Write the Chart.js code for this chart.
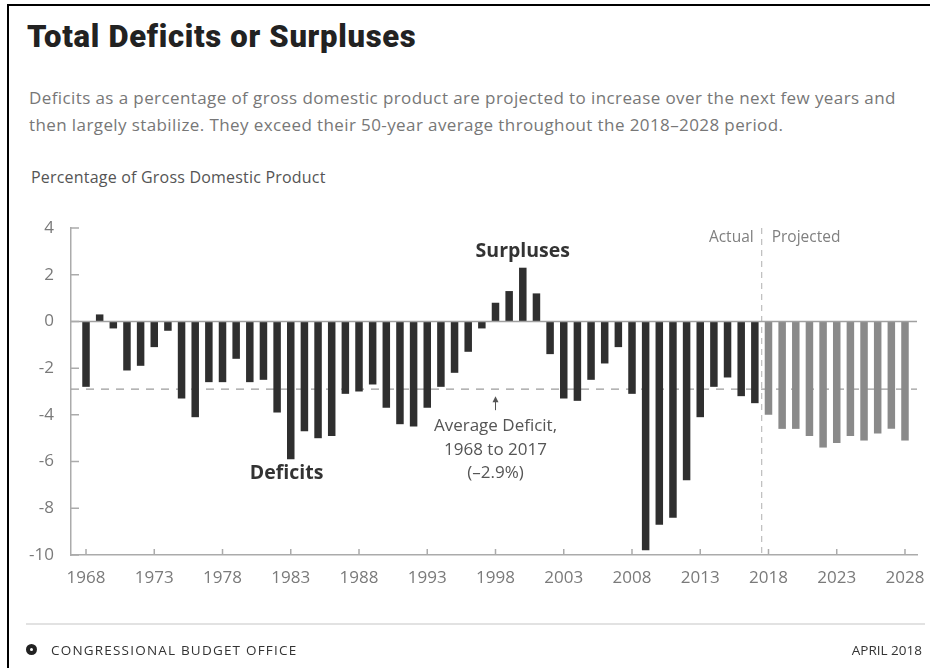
<!DOCTYPE html>
<html>
<head>
<meta charset="utf-8">
<script src="https://cdn.jsdelivr.net/npm/chart.js@4"></script>
<style>
  html, body { margin: 0; padding: 0; background: #fff; }
  #page { position: relative; width: 930px; height: 668px; overflow: hidden; font-family: "Open Sans", sans-serif; }
  #frame { position: absolute; left: 7px; top: 4px; width: 930px; height: 700px; border-top: 2px solid #000; border-left: 2px solid #000; }
  #title { position: absolute; left: 27px; top: 21px; font-family: Roboto, sans-serif; font-weight: 900; font-size: 31px; letter-spacing: 0.7px; line-height: 31px; color: #222; white-space: nowrap; }
  #sub { position: absolute; left: 29px; top: 84px; font-size: 17px; letter-spacing: 0.4px; line-height: 27px; color: #777; white-space: nowrap; }
  #unit { position: absolute; left: 31px; top: 166px; font-size: 16px; letter-spacing: 0.2px; line-height: 22px; color: #555; white-space: nowrap; }
  #rule { position: absolute; left: 26px; top: 623px; width: 899px; height: 2px; background: #e2e2e2; }
  #logo { position: absolute; left: 26px; top: 644px; width: 11px; height: 11px; border-radius: 50%; background: #222; }
  #logo::after { content: ""; position: absolute; left: 4px; top: 4px; width: 3px; height: 3px; border-radius: 50%; background: #fff; }
  #cbo { position: absolute; left: 51px; top: 640px; font-size: 13.5px; letter-spacing: 1.2px; line-height: 20px; color: #333; }
  #date { position: absolute; right: 8px; top: 640px; font-size: 13.5px; line-height: 20px; color: #333; }
  canvas { position: absolute; left: 0; top: 0; }
</style>
</head>
<body>
<div id="page">
  <div id="frame"></div>
  <div id="title">Total Deficits or Surpluses</div>
  <div id="sub">Deficits as a percentage of gross domestic product are projected to increase over the next few years and<br>then largely stabilize. They exceed their 50-year average throughout the 2018–2028 period.</div>
  <div id="unit">Percentage of Gross Domestic Product</div>
  <canvas id="deficitChart" width="930" height="668"></canvas>
  <div id="rule"></div>
  <div id="logo"></div>
  <div id="cbo">CONGRESSIONAL BUDGET OFFICE</div>
  <div id="date">APRIL 2018</div>
</div>
<script>
// values (percent of GDP)
const actualYears = [1968, 1969, 1970, 1971, 1972, 1973, 1974, 1975, 1976, 1977,
  1978, 1979, 1980, 1981, 1982, 1983, 1984, 1985, 1986, 1987,
  1988, 1989, 1990, 1991, 1992, 1993, 1994, 1995, 1996, 1997,
  1998, 1999, 2000, 2001, 2002, 2003, 2004, 2005, 2006, 2007,
  2008, 2009, 2010, 2011, 2012, 2013, 2014, 2015, 2016, 2017];
const actualValues = [-2.8, 0.3, -0.3, -2.1, -1.9, -1.1, -0.4, -3.3, -4.1, -2.6,
  -2.6, -1.6, -2.6, -2.5, -3.9, -5.9, -4.7, -5.0, -4.9, -3.1,
  -3.0, -2.7, -3.7, -4.4, -4.5, -3.7, -2.8, -2.2, -1.3, -0.3,
  0.8, 1.3, 2.3, 1.2, -1.4, -3.3, -3.4, -2.5, -1.8, -1.1,
  -3.1, -9.8, -8.7, -8.4, -6.8, -4.1, -2.8, -2.4, -3.2, -3.5];
const projectedYears = [2018, 2019, 2020, 2021, 2022, 2023, 2024, 2025, 2026, 2027, 2028];
const projectedValues = [-4.0, -4.6, -4.6, -4.9, -5.4, -5.2, -4.9, -5.1, -4.8, -4.6, -5.1];
const averageDeficit = -2.9;
const xTickYears = [1968, 1973, 1978, 1983, 1988, 1993, 1998, 2003, 2008, 2013, 2018, 2023, 2028];
const yTickValues = [-10, -8, -6, -4, -2, 0, 2, 4];

const axisGrey = '#ababab';

const overlay = {
    id: 'overlay',
    beforeDatasetsDraw(chart) {
        const { ctx, chartArea: a, scales: { x, y } } = chart;
        ctx.save();
        // 50-year average
        const ya = y.getPixelForValue(averageDeficit);
        ctx.strokeStyle = '#9c9c9c';
        ctx.lineWidth = 1.2;
        ctx.setLineDash([8, 7]);
        ctx.beginPath();
        ctx.moveTo(a.left, ya);
        ctx.lineTo(a.right, ya);
        ctx.stroke();
        // actual / projected divider
        const xd = x.getPixelForValue(2017.5);
        ctx.strokeStyle = '#bdbdbd';
        ctx.setLineDash([6, 5]);
        ctx.beginPath();
        ctx.moveTo(xd, a.top);
        ctx.lineTo(xd, a.bottom);
        ctx.stroke();
        ctx.restore();
    },
    afterDatasetsDraw(chart) {
        const { ctx, chartArea: a, scales: { x, y } } = chart;
        ctx.save();
        // zero line
        const y0 = y.getPixelForValue(0);
        ctx.strokeStyle = '#a0a0a0';
        ctx.lineWidth = 1.5;
        ctx.beginPath();
        ctx.moveTo(a.left, y0);
        ctx.lineTo(a.right, y0);
        ctx.stroke();

        // inward tick marks
        ctx.strokeStyle = axisGrey;
        ctx.lineWidth = 1.5;
        ctx.beginPath();
        xTickYears.forEach(v => {
            const px = x.getPixelForValue(v);
            ctx.moveTo(px, a.bottom);
            ctx.lineTo(px, a.bottom - 6);
        });
        yTickValues.forEach(v => {
            const py = y.getPixelForValue(v);
            ctx.moveTo(a.left, py);
            ctx.lineTo(a.left + 8, py);
        });
        ctx.stroke();

        // labels
        const xd = x.getPixelForValue(2017.5);
        ctx.fillStyle = '#808080';
        ctx.font = '15.5px "Open Sans"';
        ctx.textBaseline = 'middle';
        ctx.textAlign = 'right';
        ctx.fillText('Actual', xd - 8, a.top + 10);
        ctx.textAlign = 'left';
        ctx.fillText('Projected', xd + 10, a.top + 10);

        ctx.textAlign = 'center';
        ctx.fillStyle = '#333';
        ctx.font = 'bold 19.5px "Open Sans"';
        ctx.fillText('Surpluses', x.getPixelForValue(2000), y.getPixelForValue(3.0));
        ctx.fillText('Deficits', x.getPixelForValue(1982.7), y.getPixelForValue(-6.5));

        ctx.fillStyle = '#555';
        ctx.font = '17px "Open Sans"';
        const xa = x.getPixelForValue(1998);
        ctx.fillText('Average Deficit,', xa, y.getPixelForValue(-4.5));
        ctx.fillText('1968 to 2017', xa, y.getPixelForValue(-5.5));
        ctx.fillText('(–2.9%)', xa, y.getPixelForValue(-6.5));

        // arrow pointing at the average line
        const top = y.getPixelForValue(-3.2);
        const bot = y.getPixelForValue(-3.8);
        ctx.strokeStyle = '#555';
        ctx.lineWidth = 1;
        ctx.beginPath();
        ctx.moveTo(xa, bot);
        ctx.lineTo(xa, top + 2);
        ctx.stroke();
        ctx.beginPath();
        ctx.moveTo(xa, top);
        ctx.lineTo(xa - 3, top + 6);
        ctx.lineTo(xa + 3, top + 6);
        ctx.closePath();
        ctx.fill();
        ctx.restore();
    }
};

new Chart(document.getElementById('deficitChart'), {
    type: 'bar',
    data: {
        datasets: [
            {
                label: 'Actual',
                data: actualYears.map((yr, i) => ({ x: yr, y: actualValues[i] })),
                backgroundColor: '#2f2f2f',
                grouped: false,
                barPercentage: 0.55,
                categoryPercentage: 1
            },
            {
                label: 'Projected',
                data: projectedYears.map((yr, i) => ({ x: yr, y: projectedValues[i] })),
                backgroundColor: '#8a8a8a',
                grouped: false,
                barPercentage: 0.55,
                categoryPercentage: 1
            }
        ]
    },
    options: {
        responsive: false,
        animation: false,
        layout: { padding: { left: 0, right: 13, top: 228, bottom: 73 } },
        scales: {
            x: {
                type: 'linear',
                offset: false,
                min: 1966.9,
                max: 2028.88,
                grid: { display: false, drawTicks: false },
                border: { display: true, color: axisGrey, width: 1.5 },
                afterBuildTicks: scale => { scale.ticks = xTickYears.map(v => ({ value: v })); },
                afterFit: scale => {
                    scale.height = 40;
                    // labels at the ends may overhang; the page margin covers them
                    scale.paddingLeft = 0;
                    scale.paddingRight = 0;
                },
                ticks: {
                    callback: v => String(v),
                    color: '#7a7a7a',
                    font: { family: 'Open Sans', size: 17 },
                    padding: 13,
                    maxRotation: 0,
                    autoSkip: false
                }
            },
            y: {
                min: -10,
                max: 4,
                grid: { display: false, drawTicks: false },
                border: { display: true, color: axisGrey, width: 1.5 },
                afterBuildTicks: scale => { scale.ticks = yTickValues.map(v => ({ value: v })); },
                afterFit: scale => { scale.width = 71; },
                ticks: {
                    color: '#7a7a7a',
                    font: { family: 'Open Sans', size: 17 },
                    padding: 17
                }
            }
        },
        plugins: {
            legend: { display: false },
            tooltip: { enabled: false }
        }
    },
    plugins: [overlay]
});
</script>
</body>
</html>
